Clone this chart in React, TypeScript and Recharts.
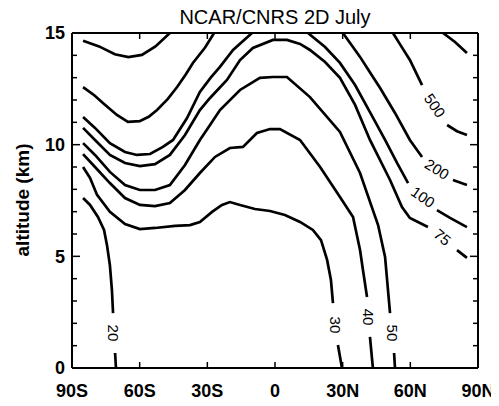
import React from 'react';
import { ComposedChart, Line, Scatter, XAxis, YAxis } from 'recharts';

// contour lines as [latitude, altitude km]; null altitude breaks the line (label gaps, leaving the top)
const c1000: [number, number | null][] = [[74.5, 15], [79.8, 14.6], [85.1, 14.1]];

const c500: [number, number | null][] = [
  [-85.1, 14.65], [-78, 14.4], [-71, 14.05], [-65, 13.92], [-59, 14.02], [-53, 14.4], [-46.6, 15],
  [-46.6, null],
  [52.3, 15], [56, 14.4], [59.8, 13.79], [65.2, 12.67],
  [65.2, null],
  [76.3, 10.88], [80.7, 10.6], [85.1, 10.43],
];

const c200: [number, number | null][] = [
  [-85.1, 12.58], [-80, 12.2], [-76.3, 11.87], [-70.1, 11.33], [-65.2, 11.02], [-60, 11.05], [-56, 11.25],
  [-52.3, 11.55], [-47.5, 12.05], [-43.4, 12.58], [-39.5, 13.15], [-36.4, 13.66], [-31, 14.35], [-27, 15],
  [-27, null],
  [30.1, 15], [34, 14.45], [37.7, 13.93], [42, 13.25], [46.6, 12.54], [53.2, 11.42], [59.8, 10.21], [65.2, 9.45],
  [65.2, null],
  [78.9, 8.42], [85.1, 8.19],
];

const c100: [number, number | null][] = [
  [-85.1, 11.24], [-79.8, 10.75], [-73.2, 10.07], [-66.5, 9.67], [-61.2, 9.54], [-55.4, 9.58], [-49.7, 9.9],
  [-45.2, 10.21], [-39, 11.19], [-33.3, 12.36], [-28.5, 13.0], [-24.4, 13.48], [-18.6, 14.24], [-10.2, 15],
  [-10.2, null],
  [14.6, 15], [22.2, 14.37], [28.8, 13.66], [35.5, 12.67], [42.1, 11.46], [48.8, 10.21], [54.1, 9.18], [59, 8.28],
  [59, null],
  [71.8, 7.07], [77.6, 6.72], [85.1, 6.31],
];

const c75: [number, number | null][] = [
  [-85.1, 10.75], [-79.8, 10.21], [-73.2, 9.54], [-66.5, 9.18], [-59.9, 9.04], [-53.2, 9.13], [-46.6, 9.54],
  [-39.9, 10.43], [-33.3, 11.55], [-28.8, 12.09], [-21.3, 12.9], [-15.5, 13.79], [-9.8, 14.33], [-0.9, 14.69],
  [5.3, 14.69], [11.1, 14.51], [15.5, 14.24], [22.2, 13.7], [28.8, 12.99], [35.5, 11.78], [42.1, 10.21],
  [51, 8.42], [56.3, 7.21], [59.8, 6.72], [67.8, 6.31],
  [67.8, null],
  [80.7, 5.28], [85.1, 4.93],
];

const c50: [number, number | null][] = [
  [-85.1, 10.07], [-79.8, 9.54], [-73.2, 8.78], [-66.5, 8.19], [-59.9, 7.97], [-53.2, 7.97], [-46.6, 8.19],
  [-39.9, 9.09], [-33.3, 10.21], [-28.8, 10.88], [-24.4, 11.55], [-15.5, 12.45], [-6.7, 12.99], [-0.9, 13.03],
  [5.3, 13.03], [15.5, 12.13], [28.8, 10.57], [37.7, 8.73], [45.7, 6.4], [48.8, 4.97], [51, 2.46],
  [51, null],
  [52.8, 0.67], [53.2, 0],
];

const c40: [number, number | null][] = [
  [-85.1, 9.58], [-79.8, 9.0], [-73.2, 8.28], [-66.5, 7.61], [-59.9, 7.3], [-53.2, 7.25], [-46.6, 7.39],
  [-39.9, 7.97], [-33.3, 8.73], [-26.6, 9.45], [-20, 9.85], [-14.2, 9.9], [-8, 10.52], [-2.2, 10.7],
  [2.2, 10.7], [11.1, 10.21], [20, 9.0], [28.8, 7.66], [34.6, 6.76], [37.7, 5.28], [39, 4.39], [40.8, 3.18],
  [40.8, null],
  [42.1, 1.39], [43.4, 0],
];

const c30: [number, number | null][] = [
  [-85.1, 9.0], [-82, 8.51], [-78.9, 7.75], [-73.2, 6.99], [-66.5, 6.45], [-59.9, 6.22], [-53.2, 6.27],
  [-44.3, 6.36], [-37.7, 6.4], [-33.3, 6.54], [-27.9, 6.99], [-23.5, 7.3], [-20, 7.43], [-15.5, 7.3],
  [-8.9, 7.12], [-2.2, 7.03], [4.4, 6.85], [11.1, 6.54], [16.8, 6.18], [20.4, 5.73], [23.1, 4.84],
  [24.8, 3.94], [25.7, 2.91],
  [25.7, null],
  [27.9, 1.03], [29.7, 0],
];

const c20: [number, number | null][] = [
  [-85.1, 7.61], [-82, 7.3], [-78.5, 6.76], [-75.8, 6.18], [-74.5, 5.51], [-73.2, 4.61], [-72.3, 3.49],
  [-71.8, 2.46],
  [-71.8, null],
  [-70.9, 0.67], [-70.5, 0],
];

const contours = [c1000, c500, c200, c100, c75, c50, c40, c30, c20];

// in-line contour labels
const labelText = ['500', '200', '100', '75', '50', '40', '30', '20'];
const labelLat = [70.8, 71.8, 65.6, 74.2, 51.9, 41.2, 26.6, -71.8];
const labelAlt = [11.75, 8.9, 7.65, 5.85, 1.57, 2.28, 1.93, 1.57];
const labelAngle = [55, 32, 35, 40, 90, 90, 90, 90];

const latTicks = [-90, -60, -30, 0, 30, 60, 90];
const latTickLabels = ['90S', '60S', '30S', '0', '30N', '60N', '90N'];
const altTicks = [0, 1, 2, 3, 4, 5, 6, 7, 8, 9, 10, 11, 12, 13, 14, 15];
const altMajor = [0, 5, 10, 15];

const font = '"Liberation Sans", Arial, Helvetica, sans-serif';

const labels = labelText.map((text, i) => ({ lat: labelLat[i], alt: labelAlt[i], text, angle: labelAngle[i] }));

const BottomTick = (props: any) => {
  const { x, y, payload } = props;
  const i = latTicks.indexOf(payload.value);
  return (
    <g>
      <line x1={x} x2={x} y1={y} y2={y - 6} stroke="#000" strokeWidth={1.5} />
      <text x={x} y={y + 29} textAnchor="middle" fontSize={18} fontWeight="bold" fontFamily={font} fill="#000">
        {latTickLabels[i]}
      </text>
    </g>
  );
};

const TopTick = (props: any) => {
  const { x, y } = props;
  return <line x1={x} x2={x} y1={y} y2={y + 6} stroke="#000" strokeWidth={1.5} />;
};

const LeftTick = (props: any) => {
  const { x, y, payload } = props;
  const major = altMajor.includes(payload.value);
  return (
    <g>
      <line x1={x} x2={x + (major ? 8 : 5)} y1={y} y2={y} stroke="#000" strokeWidth={1.5} />
      {major && (
        <text x={x - 7} y={y} dy="0.36em" textAnchor="end" fontSize={18} fontWeight="bold" fontFamily={font} fill="#000">
          {payload.value}
        </text>
      )}
    </g>
  );
};

const RightTick = (props: any) => {
  const { x, y, payload } = props;
  const major = altMajor.includes(payload.value);
  return <line x1={x} x2={x - (major ? 8 : 5)} y1={y} y2={y} stroke="#000" strokeWidth={1.5} />;
};

const ContourLabel = (props: any) => {
  const { cx, cy, payload } = props;
  if (cx == null || cy == null) return null;
  return (
    <text
      x={cx}
      y={cy}
      dy="0.35em"
      textAnchor="middle"
      fontSize={15}
      fontFamily={font}
      fill="#000"
      transform={`rotate(${payload.angle} ${cx} ${cy})`}
    >
      {payload.text}
    </text>
  );
};

const W = 491;
const H = 398;

export default function App() {
  return (
    <div style={{ position: 'relative', width: W, height: H, background: '#fff' }}>
      <ComposedChart width={W} height={H} margin={{ top: 20, right: 11, bottom: 8, left: 24 }}>
        <XAxis
          dataKey="lat"
          type="number"
          domain={[-90, 90]}
          ticks={latTicks}
          interval={0}
          height={30}
          tickSize={0}
          tickMargin={0}
          tickLine={false}
          tick={<BottomTick />}
          axisLine={{ stroke: '#000', strokeWidth: 2 }}
          allowDataOverflow
        />
        <XAxis
          xAxisId="top"
          orientation="top"
          dataKey="lat"
          type="number"
          domain={[-90, 90]}
          ticks={latTicks}
          interval={0}
          height={5}
          tickSize={0}
          tickMargin={0}
          tickLine={false}
          tick={<TopTick />}
          axisLine={{ stroke: '#000', strokeWidth: 2 }}
          allowDataOverflow
        />
        <YAxis
          type="number"
          domain={[0, 15]}
          ticks={altTicks}
          interval={0}
          width={40}
          tickSize={0}
          tickMargin={0}
          tickLine={false}
          tick={<LeftTick />}
          axisLine={{ stroke: '#000', strokeWidth: 2 }}
          allowDataOverflow
        />
        <YAxis
          yAxisId="right"
          orientation="right"
          type="number"
          domain={[0, 15]}
          ticks={altTicks}
          interval={0}
          width={10}
          tickSize={0}
          tickMargin={0}
          tickLine={false}
          tick={<RightTick />}
          axisLine={{ stroke: '#000', strokeWidth: 2 }}
          allowDataOverflow
        />
        {contours.map((c, i) => (
          <Line
            key={i}
            data={c.map(([lat, alt]) => ({ lat, alt }))}
            dataKey="alt"
            type="linear"
            stroke="#000"
            strokeWidth={2.7}
            dot={false}
            activeDot={false}
            connectNulls={false}
            isAnimationActive={false}
          />
        ))}
        <Scatter data={labels} dataKey="alt" shape={<ContourLabel />} isAnimationActive={false} />
      </ComposedChart>
      <svg width={W} height={H} style={{ position: 'absolute', left: 0, top: 0, pointerEvents: 'none', overflow: 'visible' }}>
        <text x={267} y={16} textAnchor="middle" fontSize={20} fontFamily={font} fill="#000">
          NCAR/CNRS 2D July
        </text>
        <text
          x={14}
          y={192}
          textAnchor="middle"
          dy="0.35em"
          fontSize={19}
          fontWeight="bold"
          fontFamily={font}
          fill="#000"
          transform="rotate(-90 14 192)"
        >
          altitude (km)
        </text>
      </svg>
    </div>
  );
}
